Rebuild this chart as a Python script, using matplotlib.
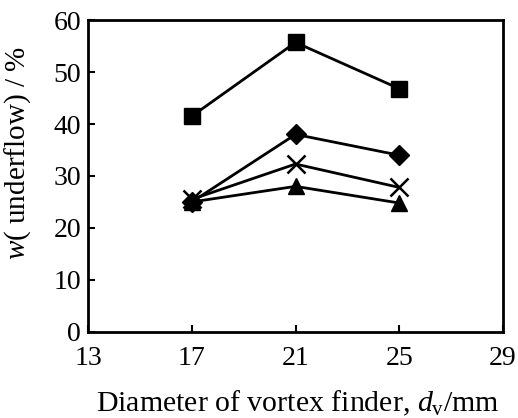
import numpy as np
import matplotlib.pyplot as plt

plt.rcParams['font.family'] = ['Liberation Serif', 'DejaVu Serif']
plt.rcParams['mathtext.fontset'] = 'custom'
plt.rcParams['mathtext.rm'] = 'Liberation Serif'
plt.rcParams['mathtext.it'] = 'Liberation Serif:italic'

# Data
d_v = [17, 21, 25]
w_square = [41.5, 55.7, 46.8]
w_diamond = [25.0, 38.0, 34.0]
w_cross = [25.5, 32.3, 27.8]
w_triangle = [25.0, 28.0, 24.8]

x_ticks = [13, 17, 21, 25, 29]
y_ticks = [0, 10, 20, 30, 40, 50, 60]

fig = plt.figure(figsize=(5.18, 4.18), dpi=100)
ax = fig.add_axes([0.170, 0.206, 0.801, 0.746])

ax.plot(d_v, w_square, '-s', color='k', lw=2, ms=12)
ax.plot(d_v, w_diamond, '-D', color='k', lw=2, ms=10.5)
ax.plot(d_v, w_cross, '-x', color='k', lw=2, ms=13, mew=1.8)
ax.plot(d_v, w_triangle, '-^', color='k', lw=2, ms=12)

ax.set_xlim(13, 29)
ax.set_ylim(0, 60)
ax.set_xticks(x_ticks)
ax.set_yticks(y_ticks)
ax.tick_params(direction='in', length=5, width=1.5, labelsize=20)
ax.tick_params(axis='x', pad=10)
ax.tick_params(axis='y', pad=5)
for s in ax.spines.values():
    s.set_linewidth(2)

fig.text(0.574, 0.016, r'Diameter of vortex finder, $d_{\mathrm{v}}$/mm',
         fontsize=21.5, ha='center', va='baseline')
fig.text(0.035, 0.634, r'$w$( underflow) / %', fontsize=21,
         rotation=90, ha='center', va='center')

fig.savefig('out.png', dpi=100)
